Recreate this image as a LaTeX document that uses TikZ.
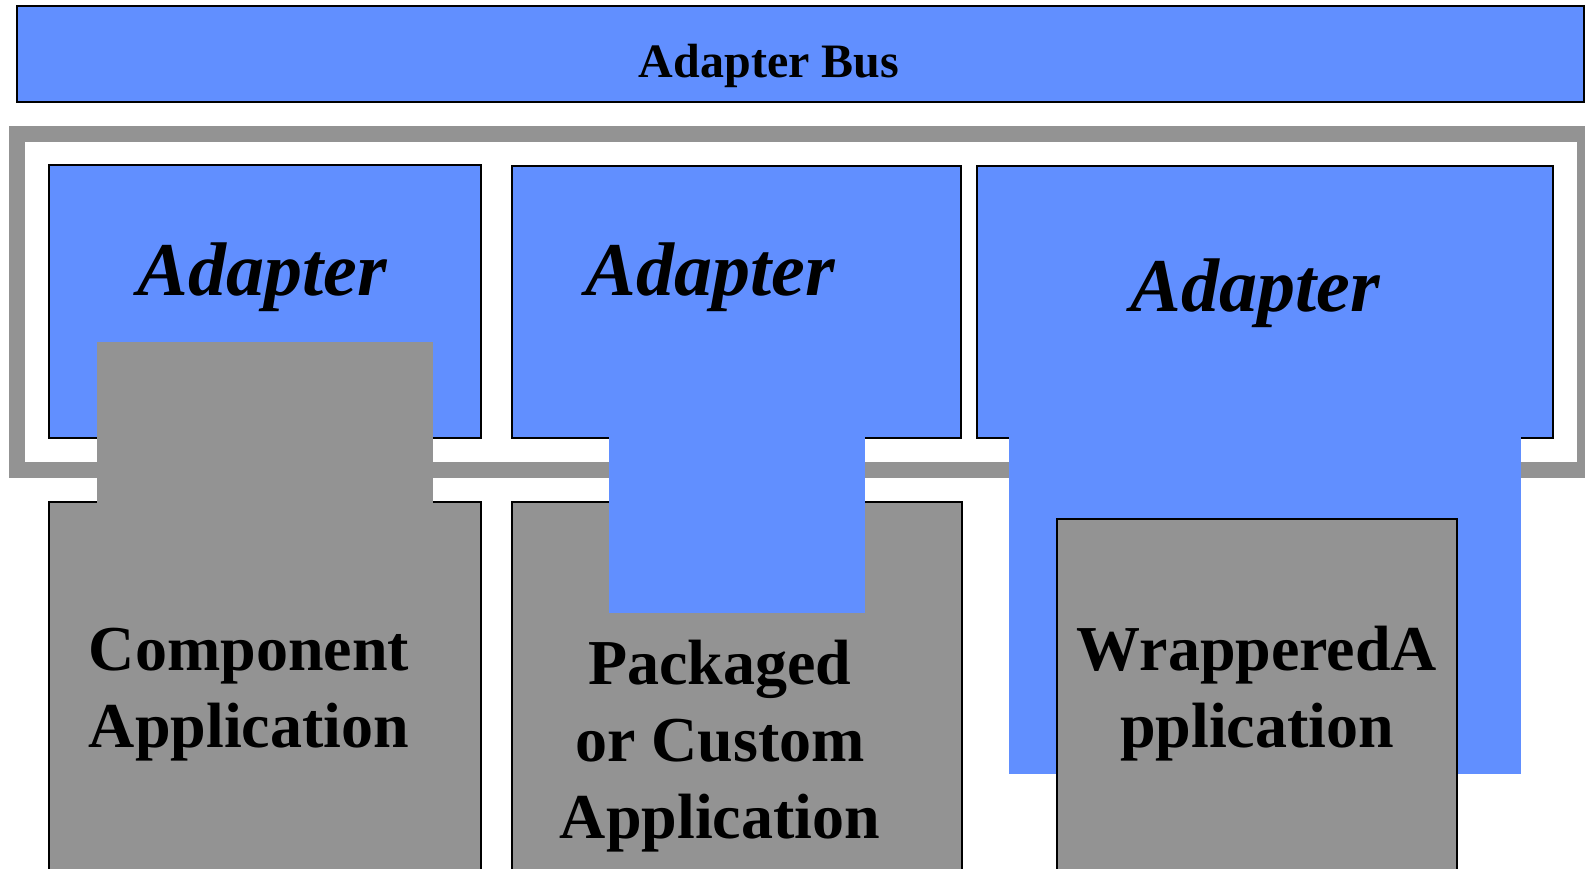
\documentclass[tikz,border=0pt]{standalone}
\usepackage{fontspec}
\setmainfont{Liberation Serif}
\usetikzlibrary{positioning}
\definecolor{busblue}{RGB}{97,143,255}
\definecolor{appgray}{RGB}{147,147,147}

\tikzset{
    bluebox/.style={fill=busblue, draw=black, line width=0.8pt},
    graybox/.style={fill=appgray, draw=black, line width=0.8pt},
    adaptertext/.style={font=\fontsize{38}{46}\selectfont\bfseries\itshape, inner sep=0pt, anchor=base},
    apptext/.style={font=\fontsize{32}{38.5}\selectfont\bfseries, align=center, inner sep=0pt, anchor=base}
}

\begin{document}
\begin{tikzpicture}[x=0.5pt, y=-0.5pt]
    % Page
    \useasboundingbox (0,0) rectangle (1585,868);
    \clip (0,0) rectangle (1585,868);
    \fill[white] (0,0) rectangle (1585,868);

    % Adapter bus
    \draw[bluebox] (17,6) rectangle (1584,102);
    \node[font=\fontsize{24}{29}\selectfont\bfseries, inner sep=0pt, anchor=base] (bus) at (769,77) {Adapter Bus};

    % Frame round the adapters
    \draw[appgray, line width=8pt] (17,134) rectangle (1585,470);

    % Adapters
    \draw[bluebox] (49,165) rectangle (481,438);
    \draw[bluebox] (512,166) rectangle (961,438);
    \draw[bluebox] (977,166) rectangle (1553,438);

    % Applications
    \draw[graybox] (49,502) rectangle (481,900);
    \draw[graybox] (512,502) rectangle (962,900);

    % Plugs
    \fill[appgray] (97,342) rectangle (433,510);
    \fill[busblue] (609,436) rectangle (865,613);
    \fill[busblue] (1009,436) rectangle (1521,774);
    \draw[graybox] (1057,519) rectangle (1457,900);

    % Labels (base = last line)
    \node[adaptertext] (adapterA) at (262,295) {Adapter};
    \node[adaptertext] (adapterB) at (710,295) {Adapter};
    \node[adaptertext] (adapterC) at (1255,311) {Adapter};

    \node[apptext] (component) at (249,747) {Component\\Application};
    \node[apptext] (packaged) at (720,838) {Packaged\\or Custom\\Application};
    \node[apptext] (wrappered) at (1257,747) {WrapperedA\\pplication};

\end{tikzpicture}
\end{document}
